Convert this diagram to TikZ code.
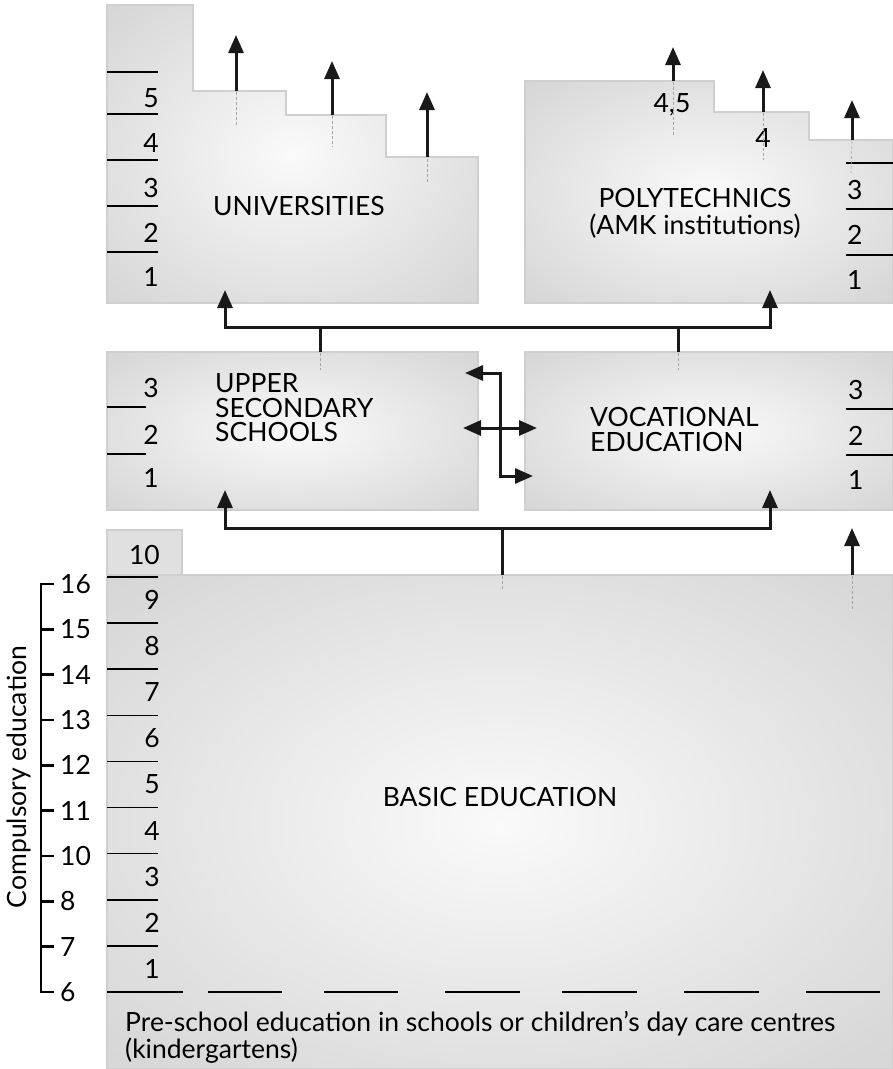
\documentclass[tikz,border=0pt]{standalone}
\usepackage{fontspec}
\setmainfont{Lato}
\usetikzlibrary{arrows.meta}
\pgfdeclareradialshading{edu}{\pgfpoint{0bp}{0bp}}{color(0bp)=(black!2); color(32bp)=(black!15); color(50bp)=(black!20); color(100bp)=(black!20)}
\tikzset{
 box/.style={shading=edu, draw=black!19, line width=1.5pt},
 conn/.style={line width=3pt, black!90},
 arr/.style={conn, -{Triangle[width=15pt,length=18pt]}},
 darr/.style={conn, {Triangle[width=15pt,length=18pt]}-{Triangle[width=15pt,length=18pt]}},
 rulel/.style={line width=1.6pt},
 lbl/.style={font=\fontsize{26.5}{27}\selectfont, inner sep=0pt},
 numr/.style={lbl, anchor=east},
 numl/.style={lbl, anchor=west},
 trace/.style={black!35, densely dashed, line width=0.6pt},
}
\begin{document}
\begin{tikzpicture}[x=1pt,y=-1pt]
\path[use as bounding box, fill=white] (0,0) rectangle (893,1069);

% ---------- boxes ----------
\path[box] (107,5) -- (193,5) -- (193,91) -- (286,91) -- (286,115) -- (386,115) -- (386,157) -- (478,157) -- (478,303) -- (107,303) -- cycle;
\path[box] (525,81) -- (714,81) -- (714,112) -- (809,112) -- (809,140) -- (893,140) -- (893,303) -- (525,303) -- cycle;
\path[box] (107,352) rectangle (478,510);
\path[box] (525,352) rectangle (893,510);
\path[box] (107,575) -- (893,575) -- (893,1069) -- (107,1069) -- cycle;
\path[fill=black!12, draw=black!19, line width=1.5pt] (107,530) rectangle (182,575);

% ---------- titles ----------
\node[lbl] (uni) at (299,206) {UNIVERSITIES};
\node[lbl, align=center, font=\fontsize{26.5}{27}\selectfont] (poly) at (695,213) {POLYTECHNICS\\(AMK institutions)};
\node[lbl, align=left, anchor=west, font=\fontsize{26.5}{24.5}\selectfont] (upper) at (215,408) {UPPER\\SECONDARY\\SCHOOLS};
\node[lbl, align=left, anchor=west, font=\fontsize{26.5}{25}\selectfont] (voc) at (590,430) {VOCATIONAL\\EDUCATION};
\node[lbl] (basic) at (500,797) {BASIC EDUCATION};
\node[lbl, align=left, anchor=west, font=\fontsize{26.5}{27}\selectfont] (pre) at (125,1037) {Pre-school education in schools or children’s day care centres\\(kindergartens)};

% ---------- universities scale ----------
\foreach \y in {72,114,160,206,252} \draw[rulel] (107,\y) -- (158,\y);
\foreach \n/\y in {5/98,4/143,3/188,2/233,1/277} \node[numr] (u\n) at (159,\y) {\n};

% ---------- polytechnics scale ----------
\foreach \y in {163,209,255} \draw[rulel] (846,\y) -- (893,\y);
\foreach \n/\y in {3/190,2/235,1/280} \node[numl] (p\n) at (847,\y) {\n};
\node[lbl] (p45) at (672,105) {4,5};
\node[lbl] (p4) at (763,138) {4};

% ---------- upper secondary scale ----------
\foreach \y in {407,454} \draw[rulel] (107,\y) -- (146,\y);
\foreach \n/\y in {3/388,2/435,1/478} \node[numr] (s\n) at (159,\y) {\n};

% ---------- vocational scale ----------
\foreach \y in {409,455} \draw[rulel] (846,\y) -- (893,\y);
\foreach \n/\y in {3/390,2/436,1/480} \node[numl] (v\n) at (848,\y) {\n};

% ---------- basic education scale ----------
\node[numr] (g10) at (160,555) {10};
\foreach \k in {0,...,8} \draw[rulel] (107,{577+46.1*\k}) -- (158,{577+46.1*\k});
\foreach \k [evaluate=\k as \g using int(9-\k)] in {0,...,8} \node[numr] (g\g) at (160,{600+46.1*\k}) {\g};
% bottom dashes
\foreach \a/\b in {107/183,208/282,324/398,445/520,562/637,684/759,806/880} \draw[rulel] (\a,992) -- (\b,992);

% ---------- compulsory bracket ----------
\draw[line width=2.4pt] (54,584) -- (41,584) -- (41,992) -- (54,992);
\foreach \a [count=\k from 0] in {16,15,14,13,12,11,10,8,7,6} {
  \draw[line width=2.4pt] (41,{584+45.33*\k}) -- (54,{584+45.33*\k});
  \node[numl] (age\a) at (60,{584+45.33*\k}) {\a};
}
\node[lbl, rotate=90] (comp) at (19,777) {Compulsory education};

% ---------- faint traces ----------
\draw[trace] (236,92) -- (236,127);
\draw[trace] (332,116) -- (332,147);
\draw[trace] (427,159) -- (427,182);
\draw[trace] (673,82) -- (673,137);
\draw[trace] (763,113) -- (763,160);
\draw[trace] (852,141) -- (851,173);
\draw[trace] (320,353) -- (320,370);
\draw[trace] (678,353) -- (678,370);
\draw[trace] (502,576) -- (502,590);
\draw[trace] (852,576) -- (852,610);

% ---------- named connector points ----------
\coordinate (ua1) at (236,91);  \coordinate (ua1e) at (236,35);
\coordinate (ua2) at (332,115); \coordinate (ua2e) at (332,61);
\coordinate (ua3) at (427,157); \coordinate (ua3e) at (427,92);
\coordinate (pa1) at (673,81);  \coordinate (pa1e) at (673,47);
\coordinate (pa2) at (763,112); \coordinate (pa2e) at (763,70);
\coordinate (pa3) at (852,140); \coordinate (pa3e) at (852,100);

\coordinate (uniIn) at (225,290);
\coordinate (polyIn) at (770,290);
\coordinate (upTop) at (320,352);
\coordinate (vocTop) at (678,352);
\coordinate (upIn) at (225,490);
\coordinate (vocIn) at (770,490);
\coordinate (basicTop) at (502,575);
\coordinate (basicR) at (852,575);
\coordinate (basicRe) at (852,528);

% ---------- connectors ----------
\foreach \s/\e in {ua1/ua1e,ua2/ua2e,ua3/ua3e,pa1/pa1e,pa2/pa2e,pa3/pa3e,basicR/basicRe}
  \draw[arr] (\s) -- (\e);

% upper fork
\draw[conn] (upTop) -- (320,327);
\draw[conn] (vocTop) -- (678,327);
\draw[arr] (320,327) -- (225,327) -- (uniIn);
\draw[arr] (678,327) -- (770,327) -- (polyIn);
\draw[conn] (320,327) -- (678,327);

% lower fork
\draw[conn] (basicTop) -- (502,528);
\draw[arr] (502,528) -- (225,528) -- (upIn);
\draw[arr] (502,528) -- (770,528) -- (vocIn);

% transfers between upper secondary and vocational
\coordinate (upR1) at (465,373);
\coordinate (vocL1) at (533,476);
\coordinate (upR2) at (463,428);
\coordinate (vocL2) at (537,428);
\draw[darr] (upR1) -- (500,373) -- (500,476) -- (vocL1);
\draw[darr] (upR2) -- (vocL2);
\end{tikzpicture}
\end{document}
